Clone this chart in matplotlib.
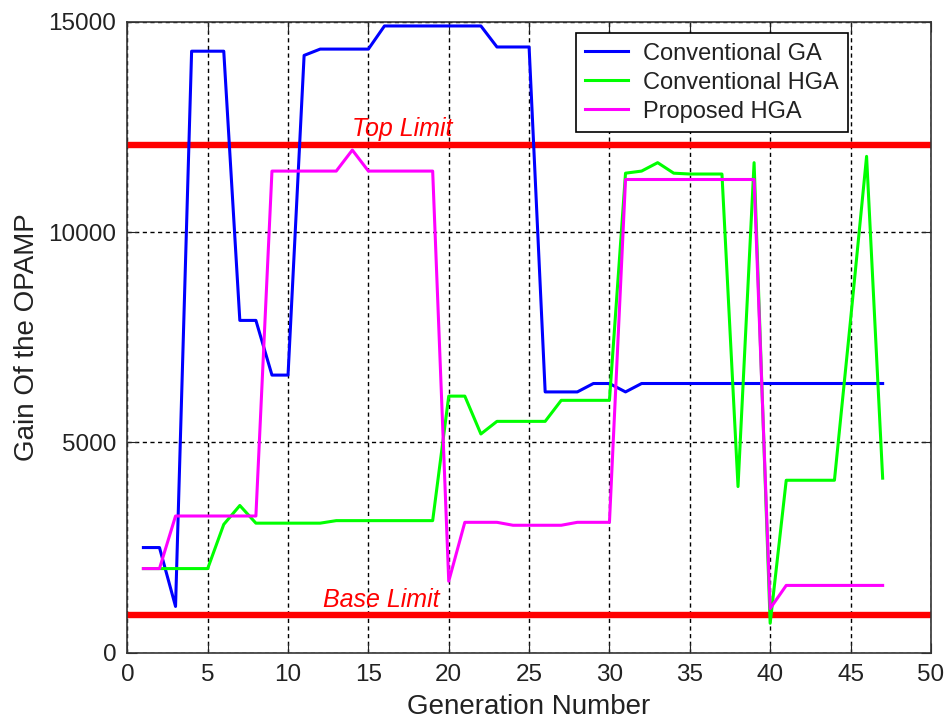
import numpy as np
import matplotlib
matplotlib.use('Agg')
import matplotlib.pyplot as plt

labelsize = 17.5

plt.rc('font', family='Liberation Sans')
plt.rc('xtick', labelsize=labelsize)
plt.rc('ytick', labelsize=labelsize)
plt.rc('axes', labelsize=20)

generation = list(range(1, 48))

conv_ga = [2500, 2500, 1100, 14300, 14300, 14300, 7900, 7900, 6600, 6600,
           14200, 14350, 14350, 14350, 14350, 14900, 14900, 14900, 14900, 14900,
           14900, 14900, 14400, 14400, 14400, 6200, 6200, 6200, 6400, 6400,
           6200, 6400, 6400, 6400, 6400, 6400, 6400, 6400, 6400, 6400,
           6400, 6400, 6400, 6400, 6400, 6400, 6400]

conv_hga = [2000, 2000, 2000, 2000, 2000, 3050, 3500, 3080, 3080, 3080,
            3080, 3080, 3140, 3140, 3140, 3140, 3140, 3140, 3140, 6100,
            6100, 5200, 5500, 5500, 5500, 5500, 6000, 6000, 6000, 6000,
            11400, 11450, 11650, 11400, 11380, 11380, 11380, 3950, 11650, 700,
            4100, 4100, 4100, 4100, 7900, 11800, 4150]

prop_hga = [2000, 2000, 3250, 3250, 3250, 3250, 3250, 3250, 11450, 11450,
            11450, 11450, 11450, 11950, 11450, 11450, 11450, 11450, 11450, 1700,
            3100, 3100, 3100, 3030, 3030, 3030, 3030, 3100, 3100, 3100,
            11250, 11250, 11250, 11250, 11250, 11250, 11250, 11250, 11250, 1050,
            1600, 1600, 1600, 1600, 1600, 1600, 1600]

top_limit = 12070
base_limit = 890

fig, ax = plt.subplots(figsize=(9.46, 7.25), dpi=100)
fig.subplots_adjust(left=0.1346, bottom=0.0997, right=0.984, top=0.970)

ax.axhline(top_limit, color='#ff0000', lw=4.6, zorder=2)
ax.axhline(base_limit, color='#ff0000', lw=4.6, zorder=2)

ax.plot(generation, conv_ga, color='#0000ff', lw=2.2, label='Conventional GA', zorder=3)
ax.plot(generation, conv_hga, color='#00ff00', lw=2.2, label='Conventional HGA', zorder=3)
ax.plot(generation, prop_hga, color='#ff00ff', lw=2.2, label='Proposed HGA', zorder=3)

ax.text(14, 12280, 'Top Limit', color='#ff0000', fontsize=18, style='italic',
        va='baseline', ha='left')
ax.text(12.2, 1080, 'Base Limit', color='#ff0000', fontsize=18, style='italic',
        va='baseline', ha='left')

ax.set_xlim(0, 50)
ax.set_ylim(0, 15000)
ax.set_xticks(np.arange(0, 51, 5))
ax.set_yticks([0, 5000, 10000, 15000])

ax.grid(True, color='black', linestyle=(0, (3, 2.5)), lw=1)
ax.tick_params(direction='in', length=7, top=True, right=True, pad=8,
               colors='#222222')
for s in ax.spines.values():
    s.set_color('#333333')
    s.set_linewidth(1.2)

ax.set_xlabel('Generation Number', labelpad=6, color='#222222')
ax.set_ylabel('Gain Of the OPAMP', labelpad=6, color='#222222')

leg = ax.legend(loc='upper right', bbox_to_anchor=(0.897, 0.982), borderaxespad=0,
                fontsize=17, fancybox=False, framealpha=1, edgecolor='black',
                handlelength=1.8, handletextpad=0.65, labelspacing=0.3, borderpad=0.4)
leg.get_frame().set_linewidth(1.2)
for t in leg.get_texts():
    t.set_color('#222222')

fig.savefig('out.png', dpi=100)
